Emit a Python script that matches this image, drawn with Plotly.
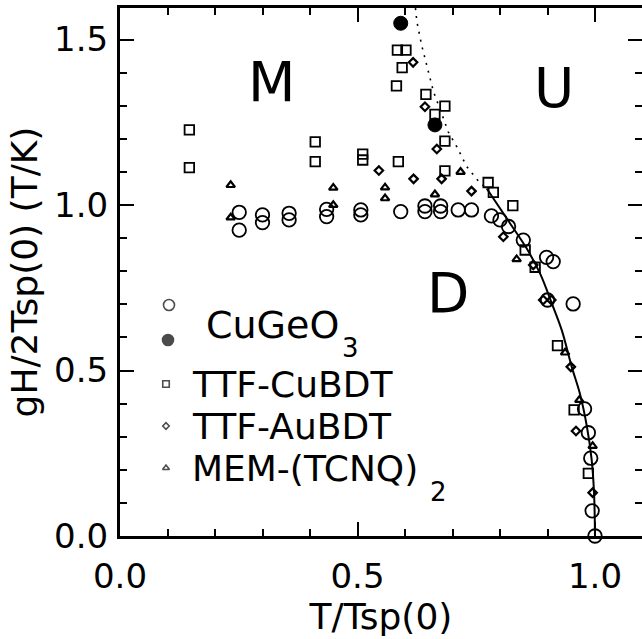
import plotly.graph_objects as go

# ---------------- data ----------------
cugeo_open_x = [0.251, 0.251, 0.300, 0.300, 0.356, 0.356, 0.435, 0.435, 0.507, 0.507,
                0.591, 0.642, 0.642, 0.675, 0.675, 0.712, 0.740, 0.782, 0.800, 0.818,
                0.849, 0.898, 0.912, 0.900, 0.954, 0.978, 0.986, 0.991, 0.994, 1.000]
cugeo_open_y = [0.978, 0.924, 0.970, 0.947, 0.975, 0.955, 0.987, 0.965, 0.985, 0.970,
                0.980, 0.997, 0.980, 0.997, 0.980, 0.985, 0.985, 0.967, 0.955, 0.935,
                0.894, 0.842, 0.829, 0.713, 0.701, 0.384, 0.312, 0.235, 0.076, 0.000]

cugeo_filled_x = [0.591, 0.663]
cugeo_filled_y = [1.549, 1.242]

cubdt_x = [0.146, 0.146, 0.411, 0.411, 0.511, 0.511, 0.586, 0.584, 0.602, 0.594,
           0.582, 0.644, 0.684, 0.663, 0.684, 0.684, 0.775, 0.786, 0.827, 0.853,
           0.874, 0.921, 0.956, 0.986]
cubdt_y = [1.227, 1.113, 1.191, 1.131, 1.154, 1.136, 1.131, 1.468, 1.468, 1.415,
           1.360, 1.334, 1.299, 1.274, 1.193, 1.103, 1.068, 1.038, 0.998, 0.864,
           0.812, 0.575, 0.381, 0.189]

aubdt_x = [0.545, 0.617, 0.618, 0.642, 0.667, 0.677, 0.740, 0.807, 0.870, 0.891,
           0.908, 0.949, 0.960, 0.995]
aubdt_y = [1.104, 1.431, 1.079, 1.297, 1.169, 1.079, 1.042, 0.904, 0.819, 0.713,
           0.713, 0.511, 0.317, 0.131]

mem_x = [0.233, 0.233, 0.449, 0.449, 0.558, 0.558, 0.663, 0.717, 0.835, 0.937, 0.967, 0.995]
mem_y = [1.060, 0.962, 1.052, 1.000, 1.053, 1.020, 1.032, 1.100, 0.836, 0.554, 0.411, 0.272]

# phase boundaries
dotted_x = [0.622, 0.625, 0.635, 0.649, 0.660, 0.677, 0.691, 0.709, 0.730, 0.758, 0.773]
dotted_y = [1.595, 1.554, 1.483, 1.408, 1.342, 1.277, 1.221, 1.176, 1.116, 1.066, 1.050]

solid_x = [0.772, 0.821, 0.856, 0.884, 0.909, 0.930, 0.951, 0.968, 0.983, 0.993, 0.998, 1.000]
solid_y = [1.050, 0.945, 0.869, 0.794, 0.703, 0.622, 0.511, 0.431, 0.330, 0.230, 0.129, 0.000]

x_ticks = [0.0, 0.5, 1.0]
y_ticks = [0.0, 0.5, 1.0, 1.5]

# ---------------- layout geometry ----------------
W, H = 642, 639
ML, MR, MT, MB = 120, 0, 8, 103
XS = 475.0   # px per x unit
YS = 331.0   # px per y unit
X_MAX = (W - ML - MR) / XS
Y_MAX = (H - MT - MB) / YS
FONT = "DejaVu Sans"


def px2x(px):
    return (px - ML) / XS


def px2y(py):
    return (H - MB - py) / YS


fig = go.Figure()

fig.add_trace(go.Scatter(x=dotted_x, y=dotted_y, mode="lines",
                         line=dict(color="black", width=1.6, dash="2px,6px"),
                         hoverinfo="skip", showlegend=False))
fig.add_trace(go.Scatter(x=solid_x, y=solid_y, mode="lines", line_shape="spline",
                         line=dict(color="black", width=2),
                         hoverinfo="skip", showlegend=False))

fig.add_trace(go.Scatter(x=cugeo_open_x, y=cugeo_open_y, mode="markers", cliponaxis=False,
                         marker=dict(symbol="circle-open", size=13.5, color="black",
                                     line=dict(color="black", width=1.8)),
                         showlegend=False))
fig.add_trace(go.Scatter(x=cubdt_x, y=cubdt_y, mode="markers", cliponaxis=False,
                         marker=dict(symbol="square-open", size=9.5, color="black",
                                     line=dict(color="black", width=1.8)),
                         showlegend=False))
fig.add_trace(go.Scatter(x=aubdt_x, y=aubdt_y, mode="markers", cliponaxis=False,
                         marker=dict(symbol="diamond-open", size=6.5, color="black",
                                     line=dict(color="black", width=2.2)),
                         showlegend=False))
fig.add_trace(go.Scatter(x=mem_x, y=mem_y, mode="markers", cliponaxis=False,
                         marker=dict(symbol="triangle-up-open", size=7.5, color="black",
                                     line=dict(color="black", width=2.2)),
                         showlegend=False))
fig.add_trace(go.Scatter(x=cugeo_filled_x, y=cugeo_filled_y, mode="markers", cliponaxis=False,
                         marker=dict(symbol="circle", size=14, color="black",
                                     line=dict(color="black", width=1)),
                         showlegend=False))

# hand-drawn legend markers
leg_px = [(169, 305), (168, 340), (166, 384), (166, 426), (166, 468)]
leg_sym = ["circle-open", "circle", "square-open", "diamond-open", "triangle-up-open"]
leg_size = [11, 11, 6.5, 5, 6]
fig.add_trace(go.Scatter(x=[px2x(p[0]) for p in leg_px], y=[px2y(p[1]) for p in leg_px],
                         mode="markers", cliponaxis=False,
                         marker=dict(symbol=leg_sym, size=leg_size, color="black",
                                     line=dict(color="black", width=1.6)),
                         showlegend=False, hoverinfo="skip"))

# invisible trace for right-hand tick axis
fig.add_trace(go.Scatter(x=[0], y=[0], yaxis="y2", mode="markers",
                         marker=dict(opacity=0), showlegend=False, hoverinfo="skip"))

annotations = []


def add_text(text, px, py, size, xanchor="center"):
    annotations.append(dict(text=text, x=px2x(px), y=px2y(py), xref="x", yref="y",
                            showarrow=False, xanchor=xanchor, yanchor="middle",
                            font=dict(family=FONT, size=size, color="black")))


add_text("M", 271, 82, 55)
add_text("U", 554, 88, 55)
add_text("D", 448, 293, 55)

add_text("CuGeO", 204, 325, 38, "left")
add_text("3", 350, 348, 26)
add_text("TTF-CuBDT", 190, 384, 36, "left")
add_text("TTF-AuBDT", 190, 426, 36, "left")
add_text("MEM-(TCNQ)", 190, 468, 36, "left")
add_text("2", 438, 492, 26)

axis_common = dict(showgrid=False, zeroline=False, ticks="inside", ticklen=14, tickwidth=2,
                   tickcolor="black", linecolor="black", linewidth=3,
                   tickfont=dict(family=FONT, size=34, color="black"),
                   tickformat=".1f")

fig.update_layout(
    width=W, height=H,
    margin=dict(l=ML, r=MR, t=MT, b=MB, pad=0),
    paper_bgcolor="white", plot_bgcolor="white",
    showlegend=False,
    annotations=annotations,
    xaxis=dict(range=[0, X_MAX], tickmode="array", tickvals=x_ticks,
               showline=True, mirror="ticks", ticklabelstandoff=8,
               minor=dict(dtick=0.1, tick0=0, ticks="inside", ticklen=7, tickwidth=2,
                          tickcolor="black"),
               title=dict(text="T/Tsp(0)", font=dict(family=FONT, size=36, color="black"),
                          standoff=4),
               **axis_common),
    yaxis=dict(range=[0, Y_MAX], tickmode="array", tickvals=y_ticks,
               showline=True, mirror=False, ticklabelstandoff=2,
               minor=dict(dtick=0.1, tick0=0, ticks="inside", ticklen=7, tickwidth=2,
                          tickcolor="black"),
               title=dict(text="gH/2Tsp(0) (T/K)", font=dict(family=FONT, size=36, color="black"),
                          standoff=6),
               **axis_common),
    yaxis2=dict(range=[0, Y_MAX], overlaying="y", side="right", tickmode="array",
                tickvals=y_ticks, showticklabels=False, showline=False,
                showgrid=False, zeroline=False, ticks="inside", ticklen=14, tickwidth=2,
                tickcolor="black",
                minor=dict(dtick=0.1, tick0=0, ticks="inside", ticklen=7, tickwidth=2,
                           tickcolor="black")),
)

fig.write_html("out.html")
